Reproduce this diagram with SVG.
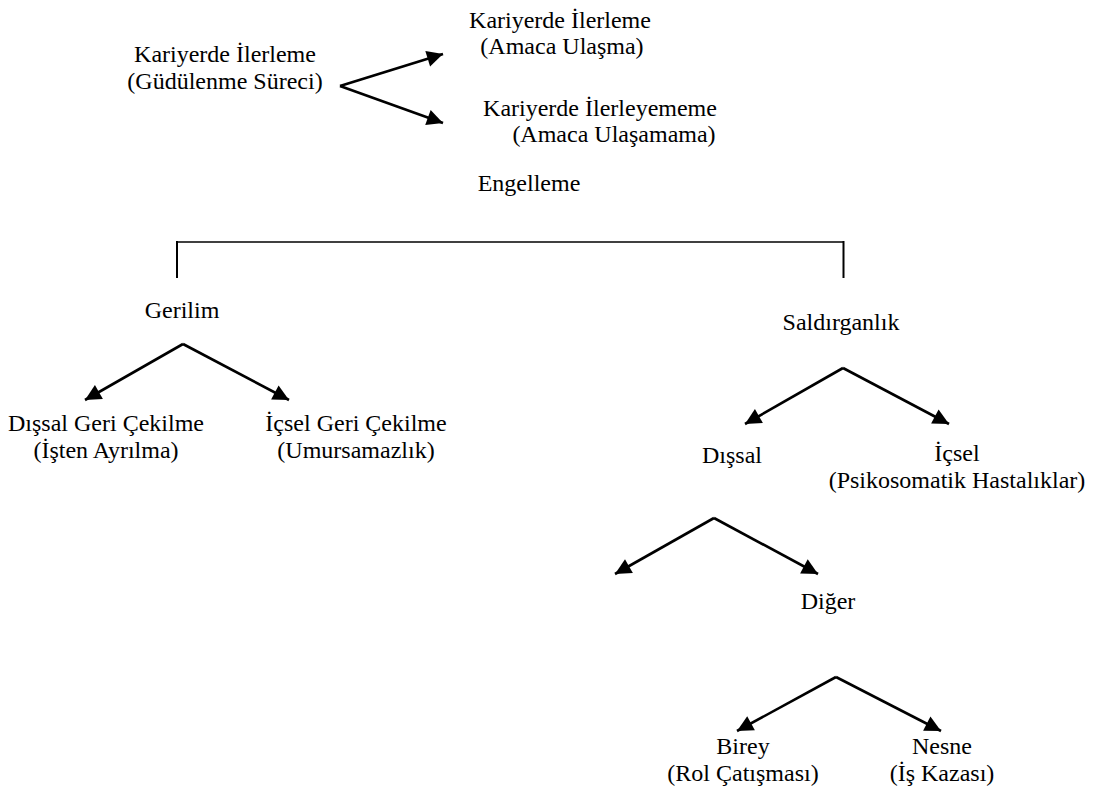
<svg xmlns="http://www.w3.org/2000/svg" width="1097" height="793" viewBox="0 0 1097 793">
<defs>
<style>
text{font-family:"Liberation Serif","Times New Roman",serif;font-size:24px;fill:#000;text-anchor:middle}
.arr{stroke:#000;stroke-width:2.6;fill:none;marker-end:url(#ah)}
.br{stroke:#000;fill:none}
</style>
<marker id="ah" markerUnits="userSpaceOnUse" markerWidth="20" markerHeight="18" refX="16" refY="8" orient="auto" overflow="visible">
<path d="M0,0 L16,8 L0,16 Z" fill="#000"/>
</marker>
</defs>
<rect width="1097" height="793" fill="#fff"/>
<g id="connectors">
<line class="arr" x1="340" y1="86" x2="443" y2="54"/>
<line class="arr" x1="340" y1="86" x2="443" y2="123"/>
<line class="br" x1="177" y1="242" x2="844" y2="242" stroke-width="1.6"/>
<line class="br" x1="177" y1="241" x2="177" y2="278" stroke-width="2"/>
<line class="br" x1="843.5" y1="241" x2="843.5" y2="278" stroke-width="2"/>
<line class="arr" x1="183" y1="344" x2="85" y2="400"/>
<line class="arr" x1="183" y1="344" x2="289" y2="400"/>
<line class="arr" x1="843" y1="368" x2="745" y2="424"/>
<line class="arr" x1="843" y1="368" x2="949" y2="424"/>
<line class="arr" x1="714" y1="518" x2="615" y2="574"/>
<line class="arr" x1="714" y1="518" x2="818" y2="574"/>
<line class="arr" x1="836" y1="677" x2="737" y2="731"/>
<line class="arr" x1="836" y1="677" x2="941" y2="731"/>
</g>
<g id="n-kariyer"><text x="225" y="62">Kariyerde İlerleme</text><text x="225" y="89">(Güdülenme Süreci)</text></g>
<g id="n-ulasma"><text x="560" y="28">Kariyerde İlerleme</text><text x="562" y="54">(Amaca Ulaşma)</text></g>
<g id="n-ulasamama"><text x="600" y="116">Kariyerde İlerleyememe</text><text x="614" y="142">(Amaca Ulaşamama)</text></g>
<g id="n-engelleme"><text x="529" y="191">Engelleme</text></g>
<g id="n-gerilim"><text x="182" y="318">Gerilim</text></g>
<g id="n-saldirganlik"><text x="841" y="330">Saldırganlık</text></g>
<g id="n-dissal-geri"><text x="106" y="431">Dışsal Geri Çekilme</text><text x="106" y="458">(İşten Ayrılma)</text></g>
<g id="n-icsel-geri"><text x="356" y="431">İçsel Geri Çekilme</text><text x="356" y="458">(Umursamazlık)</text></g>
<g id="n-dissal"><text x="732" y="463">Dışsal</text></g>
<g id="n-icsel"><text x="957" y="461">İçsel</text><text x="957" y="488">(Psikosomatik Hastalıklar)</text></g>
<g id="n-diger"><text x="828" y="609">Diğer</text></g>
<g id="n-birey"><text x="743" y="754">Birey</text><text x="743" y="781">(Rol Çatışması)</text></g>
<g id="n-nesne"><text x="942" y="754">Nesne</text><text x="942" y="781">(İş Kazası)</text></g>
</svg>
